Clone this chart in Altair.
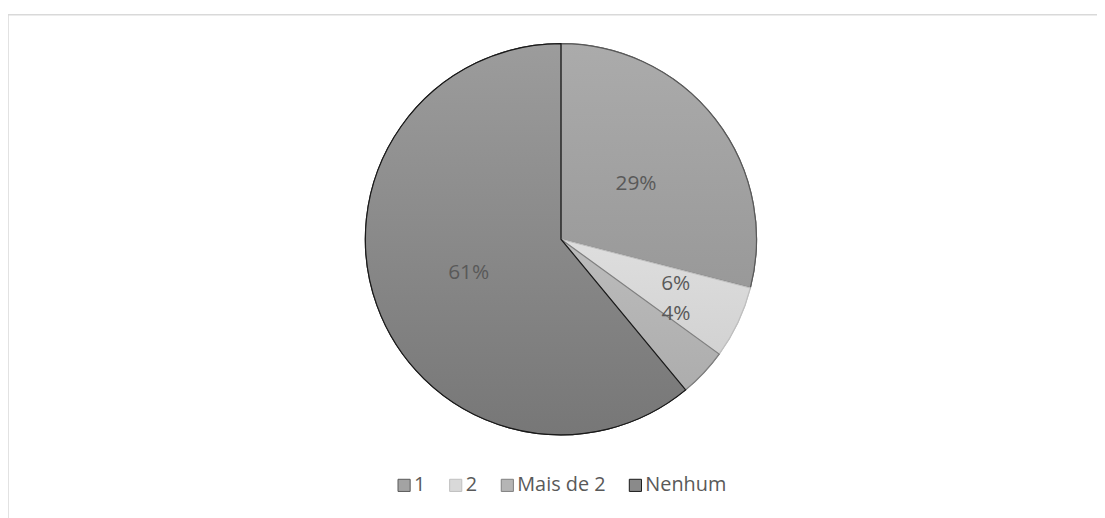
import altair as alt
import pandas as pd
import math

categories = ["1", "2", "Mais de 2", "Nenhum"]
values = [29, 6, 4, 61]
labels = ["29%", "6%", "4%", "61%"]

solid_colors = ["#a3a3a3", "#d9d9d9", "#b5b5b5", "#8a8a8a"]
stroke_colors = ["#595959", "#bfbfbf", "#808080", "#1a1a1a"]
grad_top = ["#ababab", "#dedede", "#bcbcbc", "#9c9c9c"]
grad_bottom = ["#999999", "#d2d2d2", "#adadad", "#777777"]

# cumulative positions built from the values
starts, ends, mids = [], [], []
acc = 0
for v in values:
    starts.append(acc)
    ends.append(acc + v)
    mids.append(acc + v / 2)
    acc += v

df = pd.DataFrame({
    "cat": categories, "value": values, "label": labels,
    "start": starts, "end": ends, "mid": mids,
})

CX, CY, R = 557, 231, 197
theta_scale = alt.Scale(domain=[0, 100])

base = alt.Chart(df)

solid = base.mark_arc(radius=R, strokeWidth=1.2).encode(
    theta=alt.Theta("start:Q", scale=theta_scale),
    theta2="end:Q",
    fill=alt.Fill("cat:N", scale=alt.Scale(domain=categories, range=solid_colors),
                  legend=alt.Legend(title=None, orient="none", direction="horizontal",
                                    legendX=389, legendY=469, symbolType="square",
                                    symbolSize=150, symbolStrokeWidth=1, labelFontSize=20,
                                    labelColor="#595959", labelFont="Open Sans",
                                    labelOffset=0, columnPadding=20, padding=0)),
    stroke=alt.Stroke("cat:N", scale=alt.Scale(domain=categories, range=stroke_colors)),
    x=alt.value(CX), y=alt.value(CY),
)

layers = [solid]
for i, c in enumerate(categories):
    g = alt.Gradient(gradient="linear", x1=0, y1=0, x2=0, y2=1,
                     stops=[alt.GradientStop(offset=0, color=grad_top[i]),
                            alt.GradientStop(offset=1, color=grad_bottom[i])])
    layers.append(
        base.transform_filter(alt.datum.cat == c).mark_arc(
            radius=R, fill=g, stroke=stroke_colors[i], strokeWidth=1.2
        ).encode(
            theta=alt.Theta("start:Q", scale=theta_scale),
            theta2="end:Q",
            x=alt.value(CX), y=alt.value(CY),
        )
    )

# label placement tweaks (radius, theta offset in degrees)
label_pos = {"1": (94, 1.4), "2": (124, -4.0), "Mais de 2": (138, -10.3), "Nenhum": (99, -0.3)}
for c in categories:
    r, off = label_pos[c]
    layers.append(
        base.transform_filter(alt.datum.cat == c).mark_text(
            radius=r, thetaOffset=math.radians(off), fontSize=21, font="Open Sans",
            color="#595959", align="center", baseline="middle"
        ).encode(
            theta=alt.Theta("mid:Q", scale=theta_scale),
            text="label:N",
            x=alt.value(CX), y=alt.value(CY),
        )
    )

frame = alt.Chart(pd.DataFrame({"a": [0]})).mark_rect(
    fill="transparent", stroke="#d9d9d9", strokeWidth=1.5
).encode(x=alt.value(0), y=alt.value(5), x2=alt.value(1200), y2=alt.value(700))

chart = alt.layer(frame, *layers).properties(
    width=1097, height=510, autosize=alt.AutoSizeParams(type="none"), padding=0
).configure_view(strokeWidth=0)

chart.save("out.html", embed_options={"renderer": "svg", "actions": False})
